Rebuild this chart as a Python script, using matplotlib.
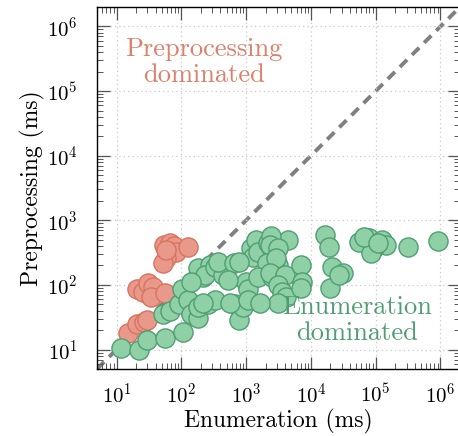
import matplotlib
matplotlib.use("Agg")
import matplotlib.pyplot as plt
from matplotlib.ticker import LogLocator, NullFormatter, LogFormatterMathtext
import numpy as np

plt.rcParams['font.family'] = ['cmr10', 'DejaVu Serif']
plt.rcParams['mathtext.fontset'] = 'cm'
plt.rcParams['axes.formatter.use_mathtext'] = True

# Preprocessing-dominated instances (enumeration ms, preprocessing ms)
pre_enum = [14.8, 20.4, 26.1, 30, 20.4, 26, 31, 36, 33.5, 57,
            55, 68, 78.5, 84, 59, 53, 129, 59]
pre_prep = [18.3, 25.2, 27.1, 29, 88, 79, 109, 94, 66, 76,
            420, 451, 404, 327, 264, 221, 391, 351]

# Enumeration-dominated instances
enum_enum = [11.9, 22.6, 30, 57, 108, 53, 68, 91, 104, 125,
             139, 178, 184, 254, 337, 220, 178, 220, 178, 282,
             236, 337, 433, 362, 640, 686, 764, 880, 574, 980,
             1052, 1052, 1170, 1256, 1397, 1553, 2216, 2555, 4508, 2465,
             2297, 3053, 764, 2138, 3162, 2845, 1553, 2555, 2297, 3916,
             3162, 3645, 4056, 3162, 1667, 6918, 7413, 6918, 16800, 18700,
             54300, 77500, 127000, 142000, 92500, 83200, 310000, 931000, 21500, 30800,
             20000, 535, 139, 64900, 110000, 26700]
enum_prep = [10.7, 10.0, 14.3, 15.3, 19, 35, 39, 50, 85, 59,
             35, 31, 45, 50, 59, 53, 144, 134, 185, 206,
             144, 192, 144, 229, 221, 50, 29, 46, 53, 112,
             85, 59, 377, 274, 501, 327, 451, 351, 501, 578,
             420, 377, 229, 221, 206, 264, 134, 134, 155, 144,
             101, 79, 64, 53, 53, 206, 112, 91, 599, 391,
             467, 538, 501, 420, 377, 315, 391, 484, 192, 155,
             91, 121, 112, 558, 451, 144]

axis_min, axis_max = 5, 2e6
diag = [axis_min, axis_max]

fig = plt.figure(figsize=(4.58, 4.36), dpi=100)
ax = fig.add_axes([97/458, 67/436, 363/458, 362/436])

ax.set_xscale('log')
ax.set_yscale('log')
ax.set_xlim(axis_min, axis_max)
ax.set_ylim(axis_min, axis_max)

ax.grid(True, which='major', linestyle=(0, (1, 2.5)), color='#c8c8c8', linewidth=0.9, zorder=0)
ax.plot(diag, diag, color='#808080', linewidth=2.8, linestyle=(0, (2.6, 1.8)), zorder=1)

ax.scatter(pre_enum, pre_prep, s=190, facecolor='#e8998a', edgecolor='#d9735f',
           linewidth=1.0, zorder=2, clip_on=True)
ax.scatter(enum_enum, enum_prep, s=190, facecolor='#8fd0a7', edgecolor='#4f9e72',
           linewidth=1.0, zorder=3, clip_on=True)

for axis in (ax.xaxis, ax.yaxis):
    axis.set_major_locator(LogLocator(base=10, numticks=20))
    axis.set_minor_locator(LogLocator(base=10, subs=np.arange(2, 10), numticks=20))
    axis.set_minor_formatter(NullFormatter())
    axis.set_major_formatter(LogFormatterMathtext())

ax.tick_params(which='both', direction='in', top=True, right=True, color='#555555')
ax.tick_params(which='major', length=9, width=0.9, labelsize=15)
ax.tick_params(axis='x', which='major', pad=10)
ax.tick_params(axis='y', which='major', pad=14)
ax.tick_params(which='minor', length=4.5, width=0.7)

for sp in ax.spines.values():
    sp.set_linewidth(1.0)
    sp.set_color('black')

ax.set_xlabel('Enumeration (ms)', fontsize=17, labelpad=1)
ax.set_ylabel('Preprocessing (ms)', fontsize=17, labelpad=1)

ax.text(0.295, 0.848, 'Preprocessing\ndominated', transform=ax.transAxes,
        ha='center', va='center', multialignment='center', fontsize=19,
        color='#dc7f6b', linespacing=1.15, zorder=5)
ax.text(0.716, 0.135, 'Enumeration\ndominated', transform=ax.transAxes,
        ha='center', va='center', multialignment='center', fontsize=19,
        color='#4f9e72', linespacing=1.15, zorder=5)

fig.savefig('out.png', dpi=100)
